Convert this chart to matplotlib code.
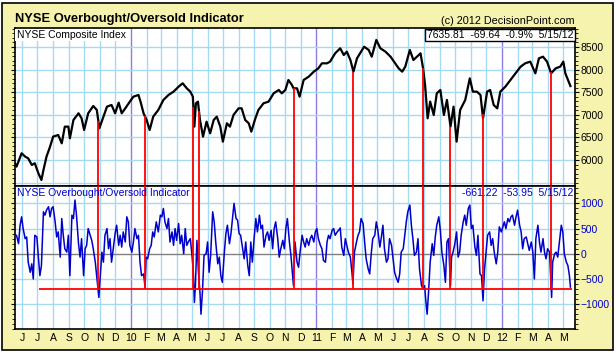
import numpy as np
import pandas as pd
import matplotlib
matplotlib.use('Agg')
import matplotlib.pyplot as plt
import matplotlib.dates as mdates
import matplotlib.ticker as ticker
from matplotlib.patches import Rectangle

plt.rcParams['font.family'] = ['Liberation Sans', 'DejaVu Sans']

# ---- data (days counted from start_date) ----
start_date = np.datetime64('2009-05-18')
end_date = np.datetime64('2012-05-24')

price_day = [0, 3, 13, 20, 26, 33, 39, 46, 52, 56, 62, 69, 75, 85, 92, 98, 105, 108, 115, 125,
             131, 136, 144, 154, 161, 166, 174, 181, 190, 197, 204, 210, 217, 226, 233, 243, 247,
             253, 259, 265, 272, 282, 292, 302, 312, 322, 330, 338, 345, 350, 353, 356, 360, 364,
             370, 377, 384, 391, 397, 404, 409, 417, 423, 430, 440, 446, 453, 460, 465, 473, 479,
             489, 499, 509, 519, 525, 532, 538, 545, 548, 555, 560, 568, 578, 588, 597, 604, 614,
             620, 630, 640, 647, 653, 660, 666, 673, 679, 687, 696, 702, 711, 719, 729, 739, 748,
             755, 762, 768, 777, 784, 791, 798, 803, 807, 812, 817, 824, 830, 837, 844, 850, 857,
             863, 869, 876, 886, 895, 901, 909, 916, 921, 929, 935, 942, 949, 955, 965, 975, 985,
             995, 1004, 1014, 1024, 1031, 1039, 1047, 1055, 1064, 1073, 1079, 1083, 1093]
price = [5927, 5853, 6148, 6074, 6037, 5890, 5927, 5706, 5558, 5779, 6074, 6295, 6517, 6553,
         6369, 6738, 6738, 6480, 6885, 7033, 6922, 6664, 7033, 7195, 7107, 6701, 6959, 7180,
         7217, 7033, 7269, 7033, 7143, 7291, 7401, 7438, 7291, 7033, 6885, 6664, 6959, 7107,
         7328, 7438, 7512, 7623, 7696, 7586, 7512, 7401, 6738, 7254, 7291, 6885, 6517, 6848,
         6590, 6885, 6959, 6738, 6406, 6812, 6738, 6996, 7143, 7143, 6885, 6812, 6627, 6922,
         7107, 7254, 7291, 7475, 7549, 7475, 7549, 7770, 7659, 7586, 7586, 7401, 7770, 7844,
         7954, 8028, 8139, 8139, 8176, 8360, 8471, 8323, 8397, 8212, 7954, 8249, 8360, 8507,
         8434, 8286, 8655, 8471, 8397, 8286, 8139, 8028, 7954, 8065, 8434, 8212, 8286, 8360,
         8028, 7659, 6922, 7291, 6996, 7475, 7549, 6996, 7328, 6738, 7180, 6406, 7107, 7328,
         7807, 7512, 7512, 7438, 6922, 7512, 7549, 7217, 7143, 7512, 7623, 7770, 7917, 8065,
         8139, 8176, 7917, 8249, 8286, 8176, 7917, 8028, 8065, 8176, 7917, 7636]

osc_day = [0, 3, 7, 10, 13, 16, 20, 23, 26, 30, 33, 36, 39, 43, 46, 49, 52, 56, 59, 62, 66, 69,
           72, 75, 79, 82, 85, 89, 92, 95, 98, 102, 105, 108, 112, 115, 118, 121, 125, 128, 131,
           135, 138, 141, 144, 148, 151, 154, 158, 161, 163, 165, 167, 171, 174, 177, 181, 184,
           187, 190, 194, 197, 200, 204, 207, 210, 213, 217, 220, 223, 226, 230, 233, 236, 240,
           243, 246, 249, 253, 256, 258, 261, 265, 268, 271, 274, 278, 282, 286, 289, 292, 295,
           299, 302, 305, 309, 312, 315, 318, 322, 325, 328, 332, 335, 338, 341, 345, 348, 351,
           353, 355, 358, 361, 364, 366, 369, 372, 376, 379, 382, 385, 389, 392, 395, 399, 402,
           405, 408, 412, 415, 418, 422, 425, 428, 431, 435, 438, 441, 444, 448, 451, 454, 458,
           461, 464, 467, 471, 474, 477, 481, 484, 487, 490, 494, 497, 500, 504, 507, 510, 513,
           517, 520, 523, 527, 530, 533, 536, 540, 543, 546, 548, 551, 555, 558, 561, 565, 568,
           571, 574, 578, 581, 584, 588, 591, 594, 597, 601, 604, 607, 611, 614, 617, 620, 624,
           627, 630, 634, 637, 640, 643, 647, 650, 653, 656, 660, 663, 665, 668, 672, 675, 678,
           681, 685, 688, 691, 695, 698, 701, 704, 708, 711, 714, 718, 721, 724, 727, 731, 734,
           737, 741, 744, 747, 750, 754, 757, 760, 764, 767, 770, 773, 777, 780, 783, 786, 790,
           793, 796, 800, 803, 806, 809, 811, 814, 817, 821, 824, 827, 830, 834, 837, 840, 844,
           847, 850, 853, 857, 859, 862, 865, 869, 872, 875, 878, 882, 885, 888, 892, 895, 898,
           901, 905, 908, 911, 915, 918, 921, 924, 927, 930, 934, 937, 940, 943, 947, 950, 953,
           957, 960, 963, 966, 970, 973, 976, 979, 983, 986, 989, 993, 996, 999, 1002, 1006,
           1009, 1012, 1016, 1019, 1022, 1025, 1029, 1032, 1035, 1039, 1042, 1045, 1048, 1052,
           1054, 1056, 1058, 1062, 1065, 1068, 1071, 1075, 1078, 1081, 1085, 1088, 1091, 1093]
osc = [367, 367, 200, 567, 734, 500, 300, 334, -167, -367, -200, -500, 367, 334, -67, -434,
       -233, 834, 767, 867, 934, 734, 900, 934, 634, 334, 434, -67, 700, 367, 100, 33, 367,
       -434, 767, 700, 1067, 767, 200, -67, 300, -434, 100, 167, 500, 367, 267, 100, -167,
       -467, -667, -867, -567, 33, -167, 367, 500, 100, 300, -167, 167, 400, 567, 167, 367,
       133, 434, 234, 734, 634, 167, 33, 234, 500, 300, 367, -167, -434, -400, -667, -67,
       -100, 100, 167, 434, 334, 634, 434, 767, 734, 900, 634, 500, 700, 234, 434, 167, 500,
       267, 600, 200, 367, 0, 500, 167, 234, 300, 0, -367, -967, -634, 267, -367, -767, -1200,
       -734, -33, 0, 234, -367, -33, 834, 634, 234, -200, -67, -434, -567, 33, 400, 567, 200,
       400, 700, 1000, 700, 667, 400, 367, 100, -100, 234, -233, -434, 234, -167, 367, 700,
       434, 767, 500, 567, 133, 367, 434, 267, 467, 100, 500, 634, 300, -67, 100, 267, 100,
       500, 700, 234, -33, -400, -634, 234, -167, -267, 33, 367, 234, 133, 300, 167, 300, 367,
       234, 434, 500, 300, 167, 100, -133, -167, 234, 367, 300, 467, 500, 367, 434, 467, 514,
       133, -33, 300, 167, 33, -67, -367, -600, 33, 234, 367, 434, 700, 600, 234, -100, -300,
       -400, 0, 300, 367, 634, 467, 133, 334, 567, 100, -167, -100, 300, 167, -100, -367,
       -467, -567, -400, 33, 100, 367, 634, 834, 967, 567, 300, -33, 33, 300, -300, -634,
       -700, -634, -1000, -1200, -734, -167, 200, -33, 334, 567, 734, 467, 33, -233, -567,
       234, 300, -634, -67, 33, 167, 434, -67, 33, 367, 634, 767, 567, 900, 967, 500, 567,
       133, -33, 367, -400, -434, -934, -300, 33, 367, 434, 167, 300, 33, -200, 33, 534, 434,
       534, 634, 500, 700, 634, 734, 767, 567, 734, 867, 567, 434, 100, 300, 334, 200, 67,
       234, 33, -500, 300, 567, 234, 33, 300, 33, -100, 100, 33, -434, -867, -167, 0, 33, -67,
       200, 567, 434, 0, -167, -233, -434, -661]

# oversold signals (red lines) and the signal level
signal_day = [164, 255, 351, 362, 549, 666, 803, 857, 920, 1054]
signal_level = -700
signal_span = [48, 1096]

price_ticks = [6000, 6500, 7000, 7500, 8000, 8500]
osc_ticks = [-1000, -500, 0, 500, 1000]


def to_dates(days):
    return start_date + np.array(days).astype('timedelta64[D]')


price_x = to_dates(price_day)
osc_x = to_dates(osc_day)
sig_x = to_dates(signal_day)
sig_top = np.interp(signal_day, price_day, price)

W, H = 616, 353
fig = plt.figure(figsize=(W / 100, H / 100), dpi=100, facecolor='white')
fig.patches.append(Rectangle((2 / W, 3 / H), 611 / W, 347 / H, transform=fig.transFigure,
                             facecolor='#F5F3AD', edgecolor='black', lw=1.2, zorder=-5))

ax1 = fig.add_axes([15 / W, (H - 185.7) / H, 560 / W, 158 / H])
ax2 = fig.add_axes([15 / W, (H - 329.3) / H, 560 / W, 143.3 / H])

grid_blue = '#A6DAF2'
year_purple = '#8C7CE6'
months = pd.date_range('2009-06-01', '2012-05-01', freq='MS')

for ax in (ax1, ax2):
    ax.set_facecolor('white')
    ax.set_xlim(start_date, end_date)
    for m in months:
        ax.axvline(m, color=year_purple if m.month == 1 else grid_blue, lw=1, zorder=1)
    for s in ax.spines.values():
        s.set_linewidth(1.2)
    ax.yaxis.tick_right()
    ax.tick_params(axis='y', which='both', right=True, left=True, direction='out',
                   labelsize=7.5, pad=1, length=3)
    ax.tick_params(axis='y', which='minor', length=2)
    ax.tick_params(axis='x', length=0)

# top panel: NYSE composite
ax1.set_ylim(5431, 8927)
for v in range(5500, 9000, 500):
    ax1.axhline(v, color=grid_blue, lw=1, zorder=1)
ax1.set_yticks(price_ticks)
ax1.yaxis.set_minor_locator(ticker.MultipleLocator(100))
ax1.xaxis.set_major_locator(mdates.MonthLocator())
ax1.set_xticklabels([])
ax1.plot(price_x, price, color='black', lw=1.6, zorder=3)
ax1.vlines(sig_x, 5431, sig_top, color='red', lw=1.3, zorder=4)
ax1.text(0.003, 0.985, 'NYSE Composite Index', transform=ax1.transAxes, fontsize=7.5,
         va='top', ha='left', zorder=5,
         bbox=dict(facecolor='white', edgecolor='none', pad=1))
ax1.text(0.997, 0.985, '7635.81  -69.64  -0.9%  5/15/12', transform=ax1.transAxes,
         fontsize=7.5, va='top', ha='right', zorder=5,
         bbox=dict(facecolor='white', edgecolor='black', lw=1, pad=1))

# bottom panel: overbought/oversold oscillator
ax2.set_ylim(-1500, 1346)
for v in range(-1500, 1500, 500):
    ax2.axhline(v, color='#808080' if v == 0 else grid_blue, lw=1, zorder=1)
ax2.set_yticks(osc_ticks)
ax2.yaxis.set_minor_locator(ticker.MultipleLocator(100))
ax2.tick_params(axis='y', labelcolor='#0000CC')
ax2.plot(osc_x, osc, color='#0000CC', lw=1.1, zorder=3)
ax2.vlines(sig_x, signal_level, 1346, color='red', lw=1.3, zorder=4)
ax2.hlines(signal_level, to_dates([signal_span[0]])[0], to_dates([signal_span[1]])[0],
           color='red', lw=1.3, zorder=4)
ax2.text(0.004, 0.985, 'NYSE Overbought/Oversold Indicator', transform=ax2.transAxes,
         fontsize=7.5, color='#0000CC', va='top', ha='left', zorder=5)
ax2.text(0.997, 0.985, '-661.22  -53.95  5/15/12', transform=ax2.transAxes,
         fontsize=7.5, color='#0000CC', va='top', ha='right', zorder=5)


def month_label(x, pos):
    d = mdates.num2date(x)
    if d.month == 1:
        return '%02d' % (d.year % 100)
    return 'JFMAMJJASOND'[d.month - 1]


ax2.xaxis.set_major_locator(mdates.MonthLocator())
ax2.xaxis.set_major_formatter(ticker.FuncFormatter(month_label))
ax2.tick_params(axis='x', labelsize=7.5, pad=3)

fig.text(15 / W, 1 - 19 / H, 'NYSE Overbought/Oversold Indicator', fontsize=9.3,
         fontweight='bold', va='center', ha='left')
fig.text(575 / W, 1 - 21 / H, '(c) 2012 DecisionPoint.com', fontsize=7.8,
         va='center', ha='right')

fig.savefig('out.png', dpi=100, facecolor=fig.get_facecolor())
